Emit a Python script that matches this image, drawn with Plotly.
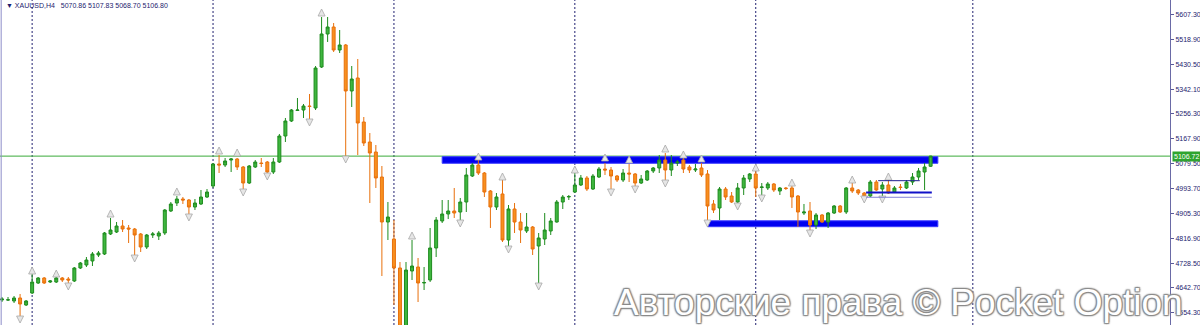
import plotly.graph_objects as go

# ---------------- data ----------------
opens = [4598.8, 4598.8, 4595.3, 4605.9, 4581.2, 4623.5, 4658.8, 4676.5, 4662.3, 4662.3,
         4676.5, 4672.9, 4665.9, 4711.8, 4722.3, 4736.5, 4757.7, 4761.2, 4831.8, 4838.8,
         4860.0, 4853.0, 4849.4, 4831.8, 4785.9, 4828.3, 4824.7, 4835.3, 4913.0, 4941.2,
         4955.3, 4951.8, 4927.1, 4937.7, 4962.4, 5001.2, 5078.9, 5075.3, 5093.0, 5096.5,
         5068.3, 5011.8, 5068.3, 5082.4, 5085.9, 5050.6, 5085.9, 5177.7, 5230.7, 5267.7,
         5269.5, 5283.6, 5276.6, 5421.3, 5537.8, 5562.5, 5481.3, 5499.0, 5336.6, 5382.5,
         5227.1, 5156.5, 5121.2, 5033.0, 4874.1, 4814.1, 4711.8, 4457.6, 4701.2, 4715.3,
         4658.8, 4669.4, 4782.4, 4877.7, 4902.4, 4913.0, 4909.4, 4944.7, 5036.5, 5075.3,
         5047.1, 4983.6, 4927.1, 4973.0, 4810.6, 4920.0, 4874.1, 4842.4, 4856.5, 4789.4,
         4814.1, 4842.4, 4874.1, 4944.7, 4962.4, 4980.0, 5004.8, 5029.5, 4990.6, 5033.0,
         5061.2, 5057.7, 5036.5, 5022.4, 5047.1, 5043.6, 5011.8, 5022.4, 5054.2, 5064.8,
         5093.0, 5057.7, 5082.4, 5093.0, 5068.3, 5057.7, 5064.8, 5043.6, 4937.7, 4923.6,
         4990.6, 4965.9, 4944.7, 4994.2, 5025.9, 5043.6, 4995.9, 4994.2, 5008.3, 4983.6,
         4994.2, 4994.2, 4965.9, 4905.9, 4913.0, 4863.5, 4898.9, 4874.1, 4905.9, 4930.6,
         4909.4, 4994.2, 4987.1, 4976.5, 4965.9, 5015.3, 4990.6, 5004.8, 4980.0, 4997.7,
         4994.2, 5015.3, 5033.0, 5050.6, 5070.86]
highs = [4609.4, 4609.4, 4612.9, 4620.0, 4598.8, 4694.1, 4680.0, 4680.0, 4669.4, 4683.5,
         4680.0, 4680.0, 4715.3, 4732.9, 4750.6, 4768.2, 4771.8, 4838.8, 4888.3, 4874.1,
         4881.2, 4863.5, 4853.0, 4835.3, 4831.8, 4838.8, 4842.4, 4920.0, 4944.7, 4965.9,
         4962.4, 4955.3, 4955.3, 4987.1, 4990.6, 5082.4, 5110.6, 5100.0, 5100.0, 5100.0,
         5071.8, 5075.3, 5093.0, 5100.0, 5089.5, 5100.0, 5184.8, 5241.3, 5273.0, 5311.9,
         5290.7, 5326.0, 5424.8, 5597.8, 5597.8, 5576.6, 5551.9, 5502.5, 5424.8, 5449.5,
         5244.8, 5188.3, 5145.9, 5071.8, 4944.7, 4881.2, 4732.9, 4732.9, 4810.6, 4747.1,
         4715.3, 4853.0, 4891.8, 4951.8, 4951.8, 4994.2, 4958.9, 5064.8, 5082.4, 5093.0,
         5050.6, 4987.1, 4976.5, 5022.4, 4934.1, 4941.2, 4905.9, 4905.9, 4860.0, 4835.3,
         4905.9, 4888.3, 4951.8, 4969.4, 4969.4, 5047.1, 5040.1, 5036.5, 5043.6, 5068.3,
         5082.4, 5068.3, 5040.1, 5061.2, 5078.9, 5047.1, 5040.1, 5057.7, 5068.3, 5110.6,
         5117.7, 5110.6, 5093.0, 5103.6, 5075.3, 5078.9, 5082.4, 5057.7, 4951.8, 4997.7,
         4997.7, 4980.0, 5011.8, 5040.1, 5047.1, 5064.8, 5011.8, 5015.3, 5011.8, 4997.7,
         4997.7, 5004.8, 4969.4, 4937.7, 4944.7, 4905.9, 4902.4, 4909.4, 4934.1, 4934.1,
         4997.7, 5015.3, 4990.6, 4980.0, 5022.4, 5022.4, 5015.3, 5022.4, 5001.2, 5008.3,
         5022.4, 5047.1, 5064.8, 5082.4, 5107.83]
lows = [4591.7, 4595.3, 4588.2, 4535.3, 4577.6, 4620.0, 4655.3, 4655.3, 4658.8, 4658.8,
        4662.3, 4658.8, 4662.3, 4708.2, 4715.3, 4718.8, 4750.6, 4757.7, 4828.3, 4835.3,
        4838.8, 4800.0, 4754.1, 4768.2, 4778.8, 4817.7, 4810.6, 4828.3, 4909.4, 4930.6,
        4937.7, 4898.9, 4916.5, 4934.1, 4958.9, 4994.2, 5047.1, 5068.3, 5050.6, 5057.7,
        4983.6, 5008.3, 5064.8, 5068.3, 5043.6, 5043.6, 5082.4, 5156.5, 5227.1, 5266.0,
        5241.3, 5234.2, 5269.5, 5417.8, 5509.6, 5474.2, 5470.7, 5100.0, 5280.1, 5110.6,
        5142.4, 4941.2, 4994.2, 4683.5, 4810.6, 4581.2, 4404.7, 4422.3, 4669.4, 4591.7,
        4634.1, 4662.3, 4750.6, 4870.6, 4884.7, 4888.3, 4881.2, 4909.4, 5033.0, 5040.1,
        4962.4, 4853.0, 4916.5, 4803.5, 4785.9, 4835.3, 4800.0, 4835.3, 4757.7, 4651.8,
        4792.9, 4828.3, 4872.0, 4920.0, 4951.8, 4976.5, 5001.2, 4983.6, 4987.1, 5029.5,
        5040.1, 4987.1, 5015.3, 5015.3, 5015.3, 4997.7, 5008.3, 5018.9, 5047.1, 5047.1,
        5015.3, 5036.5, 5071.8, 5047.1, 5047.1, 5050.6, 5033.0, 4867.1, 4905.9, 4881.2,
        4951.8, 4941.2, 4934.1, 4969.4, 5015.3, 4962.4, 4962.4, 4987.1, 4980.0, 4969.4,
        4987.1, 4923.6, 4856.5, 4898.9, 4838.8, 4849.4, 4870.6, 4853.0, 4902.4, 4905.9,
        4902.4, 4976.5, 4969.4, 4962.4, 4962.4, 4983.6, 4962.4, 4973.0, 4976.5, 4987.1,
        4990.6, 5004.8, 5022.4, 4987.1, 5068.70]
closes = [4602.3, 4599.5, 4605.9, 4584.7, 4595.3, 4662.3, 4676.5, 4658.8, 4665.9, 4676.5,
          4669.4, 4669.4, 4711.8, 4729.4, 4740.0, 4761.2, 4764.7, 4835.3, 4845.9, 4860.0,
          4849.4, 4849.4, 4828.3, 4785.9, 4828.3, 4831.8, 4835.3, 4916.5, 4937.7, 4955.3,
          4951.8, 4927.1, 4941.2, 4962.4, 4980.0, 5078.9, 5075.3, 5089.5, 5096.5, 5068.3,
          5011.8, 5071.8, 5085.9, 5080.6, 5050.6, 5085.9, 5177.7, 5230.7, 5269.5, 5269.5,
          5283.6, 5281.9, 5417.8, 5537.8, 5562.5, 5481.3, 5499.0, 5336.6, 5378.9, 5223.6,
          5153.0, 5117.7, 5029.5, 4874.1, 4891.8, 4711.8, 4440.0, 4704.7, 4718.8, 4658.8,
          4660.6, 4782.4, 4881.2, 4902.4, 4913.0, 4905.9, 4944.7, 5040.1, 5075.3, 5047.1,
          4980.0, 4927.1, 4962.4, 4810.6, 4920.0, 4874.1, 4845.9, 4856.5, 4778.8, 4817.7,
          4845.9, 4877.7, 4944.7, 4962.4, 4964.1, 5004.8, 5029.5, 4990.6, 5036.5, 5061.2,
          5057.7, 5036.5, 5022.4, 5047.1, 5043.6, 5011.8, 5025.9, 5054.2, 5064.8, 5093.0,
          5057.7, 5082.4, 5085.9, 5061.2, 5057.7, 5061.2, 5040.1, 4930.6, 4916.5, 4990.6,
          4962.4, 4944.7, 4994.2, 5029.5, 5043.6, 4994.2, 4997.7, 5008.3, 4987.1, 4994.2,
          4992.4, 4962.4, 4909.4, 4909.4, 4863.5, 4898.9, 4874.1, 4905.9, 4930.6, 4909.4,
          4994.2, 4983.6, 4976.5, 4965.9, 5015.3, 4987.1, 5004.8, 4976.5, 4994.2, 4995.9,
          5015.3, 5033.0, 5054.2, 5068.3, 5106.80]

bars = list(range(len(opens)))

frac_up_bar = [5, 9, 18, 29, 36, 39, 53, 68, 79, 83, 95, 100, 104, 110, 113, 116, 125, 131, 141, 147]
frac_up_px = [4715.3, 4704.7, 4916.5, 4994.2, 5138.9, 5131.8, 5626.0, 4838.8, 5117.7, 5047.1,
              5071.8, 5114.2, 5107.1, 5145.9, 5124.8, 5110.6, 5078.9, 5025.9, 5036.5, 5047.1]
frac_dn_bar = [3, 11, 22, 31, 40, 44, 51, 57, 76, 84, 89, 101, 105, 110, 117, 122, 126, 134, 143, 146]
frac_dn_px = [4517.6, 4634.1, 4732.9, 4877.7, 4965.9, 5022.4, 5213.0, 5082.4, 4856.5, 4764.7,
              4634.1, 4965.9, 4976.5, 4997.7, 4856.5, 4916.5, 4944.7, 4821.2, 4941.2, 4941.2]

week_starts = [5, 35, 65, 95, 125, 161]

zone_upper = (73, 155.2, 5081.4, 5104.6)
zone_lower = (117, 155.2, 4857.6, 4878.4)
level_dark = (143.3, 154.2, 4978.3)
level_light = (143.3, 154.2, 4961.4)
level_top = (145.3, 152.2, 5020.0)

bid_price = 5106.72
tick_vals = [5607.30, 5518.90, 5430.50, 5342.10, 5256.30, 5167.90, 5079.50,
             4993.70, 4905.30, 4816.90, 4728.50, 4642.70, 4554.30]
tick_text = ["%.2f" % v for v in tick_vals]

title_text = "\u25BC XAUUSD,H4\u00a0\u00a0 5070.86 5107.83 5068.70 5106.80"
watermark = "Авторские права © Pocket Option"

# ---------------- figure ----------------
fig = go.Figure()

navy = "#1c1c6e"

shapes = []
for w in week_starts:
    shapes.append(dict(type="line", xref="x", yref="paper", x0=w, x1=w, y0=0, y1=1,
                       line=dict(color="#202070", width=1, dash="2px,2px"), layer="below"))
# left border
shapes.append(dict(type="line", xref="paper", yref="paper", x0=0.001, x1=0.001, y0=0, y1=1,
                   line=dict(color="#8c8cc8", width=1)))
# bid line
shapes.append(dict(type="line", xref="paper", yref="y", x0=0, x1=1, y0=bid_price, y1=bid_price,
                   line=dict(color="#3aaa3a", width=1), layer="below"))
# blue zones
for z in (zone_upper, zone_lower):
    shapes.append(dict(type="rect", xref="x", yref="y", x0=z[0], x1=z[1], y0=z[2], y1=z[3],
                       fillcolor="#0000f0", line=dict(color="#3c3cff", width=1), layer="below"))
shapes.append(dict(type="line", xref="x", yref="y", x0=level_dark[0], x1=level_dark[1],
                   y0=level_dark[2], y1=level_dark[2], line=dict(color="#1010c8", width=2)))
shapes.append(dict(type="line", xref="x", yref="y", x0=level_light[0], x1=level_light[1],
                   y0=level_light[2], y1=level_light[2], line=dict(color="#8080d8", width=1)))
shapes.append(dict(type="line", xref="x", yref="y", x0=level_top[0], x1=level_top[1],
                   y0=level_top[2], y1=level_top[2], line=dict(color="#202090", width=1)))

fig.add_trace(go.Candlestick(
    x=bars, open=opens, high=highs, low=lows, close=closes,
    increasing=dict(fillcolor="#3fb63f", line=dict(color="#1e8c1e", width=1)),
    decreasing=dict(fillcolor="#f7901f", line=dict(color="#e8700c", width=1)),
    whiskerwidth=0, showlegend=False, hoverinfo="skip"))

fig.add_trace(go.Scatter(
    x=frac_up_bar, y=frac_up_px, mode="markers", showlegend=False, hoverinfo="skip",
    marker=dict(symbol="arrow-up", size=7, color="#e6e6e6", line=dict(color="#a8a8a8", width=0.8))))
fig.add_trace(go.Scatter(
    x=frac_dn_bar, y=frac_dn_px, mode="markers", showlegend=False, hoverinfo="skip",
    marker=dict(symbol="arrow-down", size=7, color="#e6e6e6", line=dict(color="#a8a8a8", width=0.8))))

annotations = [
    dict(text=title_text, xref="paper", yref="paper", x=0.003, y=1.0, xanchor="left",
         yanchor="top", showarrow=False, font=dict(family="Liberation Sans", size=7, color=navy)),
    dict(text=str(bid_price), xref="paper", yref="y", x=1.0, y=bid_price, xanchor="left",
         yanchor="middle", xshift=2, showarrow=False, bgcolor="#2ea42e", borderpad=1,
         font=dict(family="Liberation Sans", size=7, color="#ffffff")),
    dict(text=watermark, xref="paper", yref="paper", x=612 / 1170, y=1 - 302 / 325,
         xanchor="left", yanchor="middle", showarrow=False,
         font=dict(family="Liberation Sans", size=37, color="#ffffff",
                   shadow="-1px -1px 1px #8a8a8a, 1px -1px 1px #8a8a8a, -1px 1px 1px #8a8a8a, "
                          "1px 1px 1px #8a8a8a, 0 0 3px #888")),
]

fig.update_layout(
    width=1200, height=325,
    margin=dict(l=0, r=30, t=0, b=0),
    paper_bgcolor="white", plot_bgcolor="white",
    shapes=shapes, annotations=annotations,
    xaxis=dict(range=[-0.33, 193.7], showgrid=False, zeroline=False, showticklabels=False,
               ticks="", rangeslider=dict(visible=False), showline=False),
    yaxis=dict(range=[4510.55, 5657.8], side="right", showgrid=False, zeroline=False,
               tickvals=tick_vals, ticktext=tick_text, ticks="outside", ticklen=3,
               tickcolor="#5a5a9a", showline=True, linecolor="#6a6aa6", linewidth=1,
               tickfont=dict(family="Liberation Sans", size=7, color=navy)),
)

fig.write_html("out.html")
